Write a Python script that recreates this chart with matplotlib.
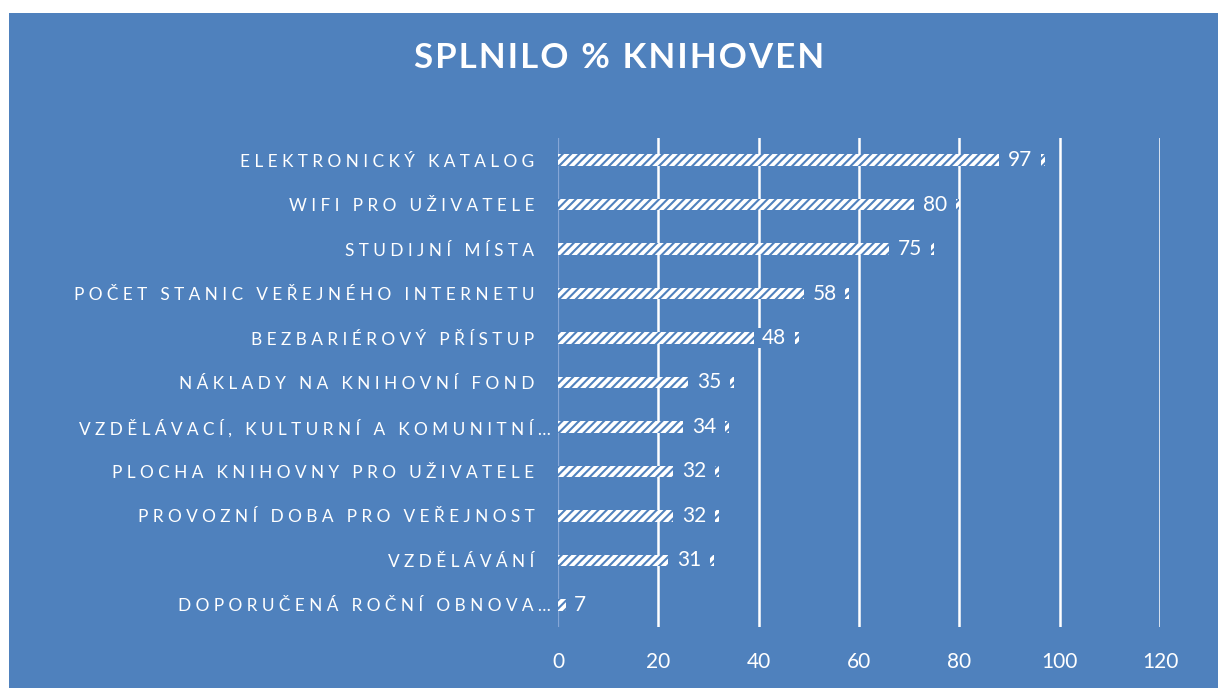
import matplotlib
matplotlib.use("Agg")
import matplotlib.pyplot as plt
import matplotlib.transforms as mtransforms
from matplotlib.patches import Rectangle

categories = [
    "ELEKTRONICKÝ KATALOG",
    "WIFI PRO UŽIVATELE",
    "STUDIJNÍ MÍSTA",
    "POČET STANIC VEŘEJNÉHO INTERNETU",
    "BEZBARIÉROVÝ PŘÍSTUP",
    "NÁKLADY NA KNIHOVNÍ FOND",
    "VZDĚLÁVACÍ, KULTURNÍ A KOMUNITNÍ…",
    "PLOCHA KNIHOVNY PRO UŽIVATELE",
    "PROVOZNÍ DOBA PRO VEŘEJNOST",
    "VZDĚLÁVÁNÍ",
    "DOPORUČENÁ ROČNÍ OBNOVA…",
]
values = [97, 80, 75, 58, 48, 35, 34, 32, 32, 31, 7]
xticks = [0, 20, 40, 60, 80, 100, 120]
title = "SPLNILO % KNIHOVEN"

BLUE = "#4F81BD"
plt.rcParams["font.family"] = ["Lato", "DejaVu Sans"]
plt.rcParams["hatch.linewidth"] = 1.5

W, H = 1218, 688
fig = plt.figure(figsize=(W / 100, H / 100), dpi=100)
fig.patch.set_facecolor("white")
bg = Rectangle((9 / W, 0), 1 - 9 / W, 1 - 13 / H, transform=fig.transFigure,
               facecolor=BLUE, edgecolor="none", zorder=-10)
fig.add_artist(bg)

ax = fig.add_axes([558 / W, 1 - 627 / H, (1160 - 558) / W, (627 - 138) / H])
ax.set_zorder(1)
ax.set_facecolor("none")
for s in ax.spines.values():
    s.set_visible(False)

ypos = list(range(len(categories)))
ax.barh(ypos, values, height=0.26, color="white", edgecolor=BLUE, hatch="////",
        linewidth=0, zorder=2)

for t in xticks[1:]:
    ax.axvline(t, color="white", lw=1.8, zorder=1)
ax.axvline(0, color="#86A6D6", lw=1.6, zorder=1)

for i, v in enumerate(values):
    left = v - 9
    tx = left + 4.1
    if left < 1.6:
        left = 1.6
        tx = left + 2.8
    ax.add_patch(Rectangle((left, i - 0.22), 8.3, 0.44, facecolor=BLUE, edgecolor="none", zorder=3))
    ax.text(tx, i, str(v), color="white", fontsize=15, ha="center", va="center", zorder=4)

def spaced(s):
    return "   ".join(" ".join(w) for w in s.split(" "))

ax.set_yticks(ypos, labels=[spaced(c) for c in categories])
ax.set_ylim(len(categories) - 0.5, -0.5)
ax.set_xlim(0, 120)
ax.set_xticks(xticks)
ax.tick_params(axis="y", length=0, pad=17, labelcolor="white", labelsize=12.4)
ax.tick_params(axis="x", length=0, pad=18, labelcolor="white", labelsize=15)

shift = mtransforms.ScaledTranslation(16 / 100, 0, fig.dpi_scale_trans)
for lab in ax.get_yticklabels():
    if lab.get_text().endswith("…"):
        lab.set_transform(lab.get_transform() + shift)

fig.text(619 / W, 1 - 58 / H, "\u200a".join(title), color="white", fontsize=25, fontweight="bold",
         ha="center", va="center")

fig.savefig("out.png", dpi=100, facecolor=fig.get_facecolor())
